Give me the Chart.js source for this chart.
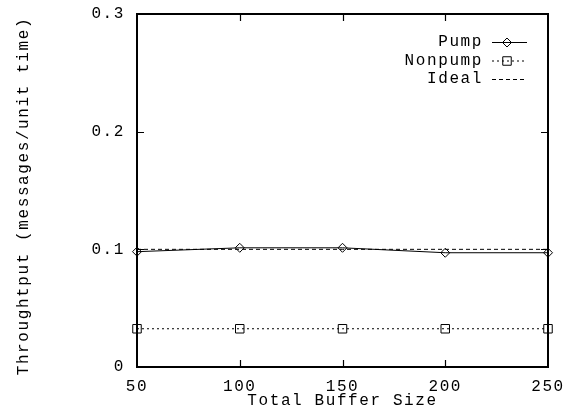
<!DOCTYPE html>
<html>
<head>
<meta charset="utf-8">
<script src="https://cdn.jsdelivr.net/npm/chart.js@4/dist/chart.umd.min.js"></script>
<style>
  html, body { margin: 0; padding: 0; background: #fff; }
  canvas { display: block; }
</style>
</head>
<body>
<canvas id="chart" width="569" height="415"></canvas>
<script>
// data
const bufferSizes = [50, 100, 150, 200, 250];
const pumpValues = [0.098, 0.1013, 0.1013, 0.0971, 0.0971];
const nonpumpValues = [0.0325, 0.0325, 0.0325, 0.0325, 0.0325];
const idealValues = [0.1, 0.1, 0.1, 0.1, 0.1];
const xTicks = [50, 100, 150, 200, 250];
const yTicks = [0, 0.1, 0.2, 0.3];
const seriesNames = ['Pump', 'Nonpump', 'Ideal'];

const FONT = { family: '"Liberation Mono", "DejaVu Sans Mono", monospace', size: 16 };
const SPACING = '1.6px'; // gnuplot's courier is wider than liberation mono

const toPoints = vals => bufferSizes.map((x, i) => ({ x: x, y: vals[i] }));

// wide monospace look for every text the chart draws
const spacingPlugin = {
  id: 'spacing',
  beforeLayout(chart) { chart.ctx.letterSpacing = SPACING; },
  beforeDraw(chart) { chart.ctx.letterSpacing = SPACING; }
};

// box around the plot, inward ticks on all sides, key in the top right
const framePlugin = {
  id: 'frame',
  afterDraw(chart) {
    const ctx = chart.ctx;
    const a = chart.chartArea;
    const xs = chart.scales.x, ys = chart.scales.y;
    ctx.save();
    ctx.strokeStyle = '#000';
    ctx.lineWidth = 1.2;
    ctx.beginPath();
    xTicks.slice(1, -1).forEach(v => {
      const px = Math.round(xs.getPixelForValue(v)) + 0.5;
      ctx.moveTo(px, a.bottom); ctx.lineTo(px, a.bottom - 7);
      ctx.moveTo(px, a.top); ctx.lineTo(px, a.top + 7);
    });
    yTicks.slice(1, -1).forEach(v => {
      const py = Math.round(ys.getPixelForValue(v)) + 0.5;
      ctx.moveTo(a.left, py); ctx.lineTo(a.left + 7, py);
      ctx.moveTo(a.right, py); ctx.lineTo(a.right - 7, py);
    });
    ctx.stroke();

    ctx.lineWidth = 2;
    ctx.strokeRect(a.left, a.top, a.right - a.left, a.bottom - a.top);

    // key
    const textRight = 483, lineStart = 492, lineEnd = 527, markX = 507;
    const rows = [42, 60.5, 79];
    ctx.font = FONT.size + 'px ' + FONT.family;
    ctx.letterSpacing = SPACING;
    ctx.fillStyle = '#000';
    ctx.textAlign = 'right';
    ctx.textBaseline = 'middle';
    chart.data.datasets.forEach((ds, i) => {
      const y = rows[i];
      ctx.fillText(seriesNames[i], textRight, y);
      ctx.save();
      ctx.strokeStyle = ds.borderColor;
      ctx.lineWidth = ds.borderWidth;
      ctx.setLineDash(ds.borderDash || []);
      ctx.beginPath();
      ctx.moveTo(lineStart, y + 0.5);
      ctx.lineTo(lineEnd, y + 0.5);
      ctx.stroke();
      ctx.restore();
      if (ds.pointRadius > 0) {
        ctx.save();
        ctx.strokeStyle = ds.pointBorderColor;
        ctx.fillStyle = ds.pointBackgroundColor;
        ctx.lineWidth = ds.pointBorderWidth;
        Chart.helpers.drawPoint(ctx, { pointStyle: ds.pointStyle, radius: ds.pointRadius, borderWidth: ds.pointBorderWidth }, markX, y + 0.5);
        ctx.restore();
      }
    });
    ctx.restore();
  }
};

new Chart(document.getElementById('chart'), {
  type: 'line',
  data: {
    datasets: [
      {
        label: seriesNames[0],
        data: toPoints(pumpValues),
        borderColor: '#000',
        borderWidth: 1,
        pointStyle: 'rectRot',
        pointRadius: 4.5,
        pointBorderWidth: 1,
        pointBorderColor: '#000',
        pointBackgroundColor: 'rgba(0,0,0,0)',
        tension: 0
      },
      {
        label: seriesNames[1],
        data: toPoints(nonpumpValues),
        borderColor: '#000',
        borderWidth: 1,
        borderDash: [2, 3],
        pointStyle: 'rect',
        pointRadius: 6,
        pointBorderWidth: 1,
        pointBorderColor: '#000',
        pointBackgroundColor: 'rgba(0,0,0,0)',
        tension: 0
      },
      {
        label: seriesNames[2],
        data: toPoints(idealValues),
        borderColor: '#000',
        borderWidth: 1,
        borderDash: [4, 3],
        pointRadius: 0,
        tension: 0
      }
    ]
  },
  options: {
    responsive: false,
    animation: false,
    clip: false,
    layout: { padding: { top: 14, right: 21, left: 0, bottom: 0 } },
    plugins: { legend: { display: false }, tooltip: { enabled: false } },
    scales: {
      x: {
        type: 'linear',
        min: 50,
        max: 250,
        afterBuildTicks: s => { s.ticks = xTicks.map(v => ({ value: v })); },
        afterFit: s => { s.height = 48; s.paddingLeft = 0; s.paddingRight = 0; },
        grid: { display: false, drawTicks: false },
        border: { display: false },
        ticks: { color: '#000', font: FONT, padding: 10, maxRotation: 0 },
        title: { display: true, text: 'Total Buffer Size', color: '#000', font: FONT, padding: { top: 0, bottom: 5 } }
      },
      y: {
        min: 0,
        max: 0.3,
        afterBuildTicks: s => { s.ticks = yTicks.map(v => ({ value: v })); },
        afterFit: s => { s.width = 137; s.paddingTop = 0; s.paddingBottom = 0; },
        grid: { display: false, drawTicks: false },
        border: { display: false },
        ticks: {
          color: '#000',
          font: FONT,
          padding: 12,
          callback: v => (v === 0 ? '0' : v.toFixed(1))
        },
        // trailing space nudges the centred title down like the original
        title: { display: true, text: 'Throughtput (messages/unit time) ', color: '#000', font: FONT, padding: { top: 14, bottom: 0 } }
      }
    }
  },
  plugins: [spacingPlugin, framePlugin]
});
</script>
</body>
</html>
